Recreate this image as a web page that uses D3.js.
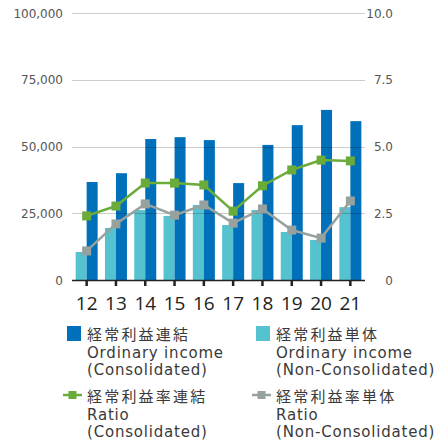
<!DOCTYPE html>
<html>
<head>
<meta charset="utf-8">
<script src="https://cdn.jsdelivr.net/npm/d3@7"></script>
<style>
  body { margin: 0; background: #fff; }
  text { font-family: "DejaVu Sans", "Noto Sans CJK JP", sans-serif; }
  text.xlab { font-family: "Open Sans", sans-serif; }
</style>
</head>
<body>
<div id="chart"></div>
<script>
const years = ["12", "13", "14", "15", "16", "17", "18", "19", "20", "21"];
const incomeConsolidated = [36700, 40000, 52800, 53500, 52400, 36300, 50600, 58000, 63700, 59500];
const incomeNonConsolidated = [10500, 19500, 26200, 24000, 28100, 20600, 26200, 18000, 15000, 27300];
const ratioConsolidated = [2.40, 2.77, 3.63, 3.63, 3.56, 2.58, 3.53, 4.12, 4.49, 4.46];
const ratioNonConsolidated = [1.09, 2.10, 2.85, 2.43, 2.81, 2.13, 2.66, 1.87, 1.57, 2.96];
const leftTicks = [0, 25000, 50000, 75000, 100000];
const rightTicks = [0, 2.5, 5, 7.5, 10];

const W = 438, H = 441;
const plot = { left: 72, right: 365, top: 13, bottom: 280 };
const colors = { blue: "#0070bb", cyan: "#55c3cf", green: "#6aab3a", gray: "#97a19e" };

const svg = d3.select("#chart").append("svg")
    .attr("width", W).attr("height", H);

const x = d3.scaleBand().domain(years).range([plot.left, plot.right]);
const yL = d3.scaleLinear().domain([0, 100000]).range([plot.bottom, plot.top]);
const yR = d3.scaleLinear().domain([0, 10]).range([plot.bottom, plot.top]);
const barW = 11;
const cx = d => x(d) + x.bandwidth() / 2;

// bars
svg.append("g").selectAll("rect.nc")
    .data(years).enter().append("rect")
    .attr("x", d => cx(d) - barW)
    .attr("y", (d, i) => yL(incomeNonConsolidated[i]))
    .attr("width", barW)
    .attr("height", (d, i) => plot.bottom - yL(incomeNonConsolidated[i]))
    .attr("fill", colors.cyan);

svg.append("g").selectAll("rect.c")
    .data(years).enter().append("rect")
    .attr("x", d => cx(d))
    .attr("y", (d, i) => yL(incomeConsolidated[i]))
    .attr("width", barW)
    .attr("height", (d, i) => plot.bottom - yL(incomeConsolidated[i]))
    .attr("fill", colors.blue);

// grid lines (on top, semi transparent)
svg.append("g").selectAll("line")
    .data(leftTicks.slice(1)).enter().append("line")
    .attr("x1", plot.left).attr("x2", plot.right)
    .attr("y1", d => Math.round(yL(d)) + 0.5).attr("y2", d => Math.round(yL(d)) + 0.5)
    .attr("stroke", "rgba(0,0,0,0.2)");

// baseline + ticks
svg.append("line")
    .attr("x1", plot.left).attr("x2", plot.right)
    .attr("y1", plot.bottom + 0.5).attr("y2", plot.bottom + 0.5)
    .attr("stroke", "#222").attr("stroke-width", 1.5);
svg.append("g").selectAll("line")
    .data(years).enter().append("line")
    .attr("x1", d => cx(d)).attr("x2", d => cx(d))
    .attr("y1", plot.bottom).attr("y2", plot.bottom + 6)
    .attr("stroke", "#222").attr("stroke-width", 2.5);

// ratio lines
function drawLine(values, color) {
    const line = d3.line().x((d, i) => cx(years[i])).y(d => yR(d));
    svg.append("path").datum(values)
        .attr("d", line)
        .attr("fill", "none")
        .attr("stroke", color)
        .attr("stroke-width", 2.5);
    svg.append("g").selectAll("rect")
        .data(values).enter().append("rect")
        .attr("x", (d, i) => cx(years[i]) - 4.5)
        .attr("y", d => yR(d) - 4.5)
        .attr("width", 9).attr("height", 9)
        .attr("fill", color);
}
drawLine(ratioNonConsolidated, colors.gray);
drawLine(ratioConsolidated, colors.green);

// axis labels
svg.append("g").selectAll("text")
    .data(leftTicks).enter().append("text")
    .attr("x", 63).attr("y", d => yL(d) + 4.5)
    .attr("text-anchor", "end")
    .attr("font-size", 12).attr("fill", "#555")
    .text(d => d3.format(",")(d));

svg.append("g").selectAll("text")
    .data(rightTicks).enter().append("text")
    .attr("x", 393).attr("y", d => yR(d) + 4.5)
    .attr("text-anchor", "end")
    .attr("font-size", 12).attr("fill", "#555")
    .text(d => d === 0 ? "0" : d3.format(".1f")(d));

svg.append("g").selectAll("text")
    .data(years).enter().append("text")
    .attr("class", "xlab")
    .attr("x", d => cx(d)).attr("y", 310)
    .attr("text-anchor", "middle")
    .attr("font-size", 19).attr("fill", "#222")
    .text(d => d);

// legend
const legend = [
    { kind: "bar", color: colors.blue, x: 67, y: 340, lines: ["経常利益連結", "Ordinary income", "(Consolidated)"] },
    { kind: "bar", color: colors.cyan, x: 256, y: 340, lines: ["経常利益単体", "Ordinary income", "(Non-Consolidated)"] },
    { kind: "line", color: colors.green, x: 63, y: 402, lines: ["経常利益率連結", "Ratio", "(Consolidated)"] },
    { kind: "line", color: colors.gray, x: 252, y: 402, lines: ["経常利益率単体", "Ratio", "(Non-Consolidated)"] }
];
legend.forEach(l => {
    const g = svg.append("g");
    if (l.kind === "bar") {
        g.append("rect").attr("x", l.x).attr("y", l.y - 14)
            .attr("width", 14).attr("height", 15).attr("fill", l.color);
    } else {
        g.append("line").attr("x1", l.x).attr("x2", l.x + 19)
            .attr("y1", l.y - 7).attr("y2", l.y - 7)
            .attr("stroke", l.color).attr("stroke-width", 2.5);
        g.append("rect").attr("x", l.x + 5.5).attr("y", l.y - 11)
            .attr("width", 8).attr("height", 8).attr("fill", l.color);
    }
    const tx = l.kind === "bar" ? l.x + 20 : l.x + 24;
    g.selectAll("text").data(l.lines).enter().append("text")
        .attr("x", tx).attr("y", (d, i) => l.y + i * 17.5)
        .attr("font-size", 15).attr("fill", "#3a3a3a")
        .attr("letter-spacing", (d, i) => i === 0 ? 2.2 : 0.8)
        .text(d => d);
});
</script>
</body>
</html>
